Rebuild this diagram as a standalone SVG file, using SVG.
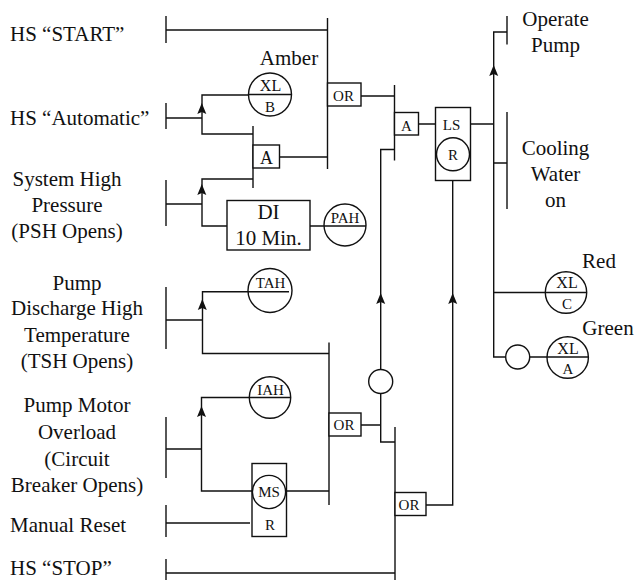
<svg xmlns="http://www.w3.org/2000/svg" width="635" height="580" viewBox="0 0 635 580">
<style>
text{font-family:"Liberation Serif","Times New Roman",serif;fill:#111;text-anchor:middle}
.l{font-size:21px}
.la{font-size:21px;text-anchor:start}
.s{font-size:15px}
.x{font-size:16px}
.w{fill:none;stroke:#111;stroke-width:1.4}
.b{fill:#fff;stroke:#111;stroke-width:1.4}
.h{fill:#111;stroke:none}
</style>
<defs>
<path id="ah" class="h" d="M0 0L4.500 11L0 9L-4.500 11Z"/>
</defs>
<rect width="635" height="580" fill="#fff"/>
<g id="connectors" class="w">
<path class="w" d="M166 16V43M166 30H327.500M327.500 18V169"/>
<path class="w" d="M166 103V129M166 118H202M291 95H202V134H253M253 126V188M279.500 157H327.500"/>
<path class="w" d="M166 180V226M166 204H202M253 179H202V226H227M310 226H324"/>
<path class="w" d="M361 96H394.500M394.500 85V160.500M394.500 149.500H380.700V369M418.500 124H435.500M471 124H493.700"/>
<path class="w" d="M507 16V44.500M507 32H493.700V357H506M529.700 357H547M507 112V209M494 163H507M494 292.500H546"/>
<path class="w" d="M166 287V349M166 320H202.500M248 291.700H202.500V353.500H329M329 342.500V505"/>
<path class="w" d="M166 417V478M166 449H201.500M250 397.500H201.500V491H252M286.500 491H329M166 505V537M166 523H250"/>
<path class="w" d="M361 425H380.700M380.700 393.500V442H395M395 427V580M166 559V580M166 573H395M426 505H452.700V180.500"/>
<use href="#ah" x="201.800" y="103"/>
<use href="#ah" x="201.800" y="184"/>
<use href="#ah" x="202.300" y="299"/>
<use href="#ah" x="201.500" y="406"/>
<use href="#ah" x="380.700" y="293"/>
<use href="#ah" x="452.700" y="293"/>
<use href="#ah" x="493.700" y="65"/>
</g>
<g id="hs-start"><text class="la" x="10" y="41">HS “START”</text></g>
<g id="hs-automatic"><text class="la" x="10" y="125">HS “Automatic”</text></g>
<g id="system-high"><text class="l" x="67" y="186">System High</text><text class="l" x="67" y="212">Pressure</text><text class="l" x="67" y="238">(PSH Opens)</text></g>
<g id="pump-discharge"><text class="l" x="77" y="290">Pump</text><text class="l" x="77" y="315">Discharge High</text><text class="l" x="77" y="342">Temperature</text><text class="l" x="77" y="368">(TSH Opens)</text></g>
<g id="pump-motor"><text class="l" x="77" y="412">Pump Motor</text><text class="l" x="77" y="439">Overload</text><text class="l" x="77" y="466">(Circuit</text><text class="l" x="77" y="492">Breaker Opens)</text></g>
<g id="manual-reset"><text class="la" x="10" y="532">Manual Reset</text></g>
<g id="hs-stop"><text class="la" x="10" y="575">HS “STOP”</text></g>
<g id="xl-b"><text class="l" x="289" y="65">Amber</text><circle class="b" cx="270" cy="94.500" r="21.500"/><path class="w" d="M248.500 94.500H291.500"/><text class="x" x="270.500" y="91">XL</text><text class="s" x="270" y="112">B</text></g>
<g id="and-1"><rect class="b" x="253" y="145" width="26.500" height="23"/><text x="266.500" y="164" style="font-size:18px">A</text></g>
<g id="or-1"><rect class="b" x="327.500" y="83" width="33.500" height="23"/><text class="s" x="343.500" y="101">OR</text></g>
<g id="di"><rect class="b" x="227" y="200.500" width="83" height="49.500"/><text class="l" x="268.500" y="219">DI</text><text class="l" x="268.500" y="245">10 Min.</text></g>
<g id="pah"><circle class="b" cx="345" cy="225" r="21"/><path class="w" d="M324 226H366"/><text class="s" x="345" y="223">PAH</text></g>
<g id="and-2"><rect class="b" x="394.500" y="112.500" width="24" height="22.500"/><text class="s" x="406.500" y="131">A</text></g>
<g id="ls"><rect class="b" x="435.500" y="107.500" width="35" height="73"/><text class="s" x="451.500" y="130">LS</text><circle class="b" cx="453" cy="154.300" r="16.500"/><text class="s" x="453" y="160">R</text></g>
<g id="operate"><text class="l" x="555.500" y="26">Operate</text><text class="l" x="555.500" y="52">Pump</text></g>
<g id="cooling"><text class="l" x="555.500" y="154.500">Cooling</text><text class="l" x="555.500" y="181">Water</text><text class="l" x="555.500" y="207">on</text></g>
<g id="xl-c"><text class="l" x="599" y="268">Red</text><circle class="b" cx="566" cy="292.500" r="20.700"/><path class="w" d="M545.300 292.500H586.700"/><text class="x" x="567" y="288">XL</text><text class="s" x="567" y="309">C</text></g>
<g id="lamp"><circle class="b" cx="517.700" cy="357" r="12"/></g>
<g id="xl-a"><text class="l" x="608" y="335">Green</text><circle class="b" cx="567.700" cy="357.500" r="20.700"/><path class="w" d="M547 357H588.400"/><text class="x" x="568" y="354">XL</text><text class="s" x="568" y="374">A</text></g>
<g id="tah"><circle class="b" cx="270" cy="290.500" r="22"/><path class="w" d="M248 291.700H289"/><text class="s" x="270.500" y="288">TAH</text></g>
<g id="iah"><circle class="b" cx="270" cy="397.500" r="20.700"/><path class="w" d="M249.300 397.500H290.700"/><text class="s" x="270.500" y="395">IAH</text></g>
<g id="or-2"><rect class="b" x="329" y="413" width="32" height="23"/><text class="s" x="344" y="430">OR</text></g>
<g id="lamp-2"><circle class="b" cx="380.700" cy="381.500" r="12"/></g>
<g id="ms"><rect class="b" x="252" y="463.500" width="34.500" height="73"/><circle class="b" cx="269" cy="492" r="16.600"/><text class="s" x="269" y="497">MS</text><text class="s" x="270" y="530">R</text></g>
<g id="or-3"><rect class="b" x="395" y="492.500" width="31" height="23"/><text class="s" x="409" y="510">OR</text></g>
</svg>
